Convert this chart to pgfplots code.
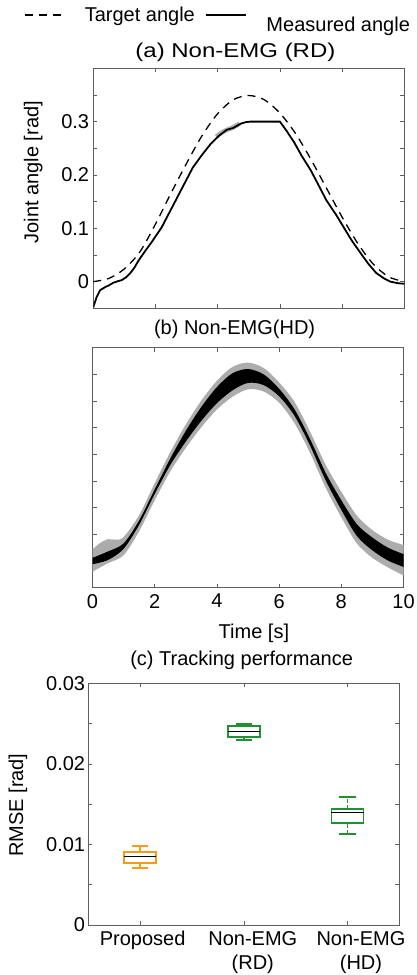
\documentclass[border=0pt]{standalone}
\usepackage{fontspec}
\setmainfont{Liberation Sans}
\usepackage{graphicx}
\usepackage{pgfplots}
\pgfplotsset{compat=1.18}
\usepgfplotslibrary{fillbetween}

\definecolor{axgray}{RGB}{95,95,95}
\definecolor{bandgray}{RGB}{172,172,172}
\definecolor{boxorange}{RGB}{246,155,25}
\definecolor{boxgreen}{RGB}{32,145,50}

\newcommand{\fsz}{\fontsize{20}{24}\selectfont}

\pgfplotsset{
  mlab/.style={
    scale only axis, width=311pt, height=240pt,
    axis line style={axgray, line width=0.8pt},
    tick align=inside, xtick pos=both, ytick pos=both,
    major tick length=4pt, minor tick length=4pt,
    every tick/.style={axgray, line width=0.6pt},
    tick label style={font=\fsz},
    label style={font=\fsz},
    every axis title shift=0pt,
    title style={font=\fsz, anchor=base},
    yticklabel style={inner xsep=4pt},
    /pgf/number format/assume math mode=true,
  },
}

\begin{document}
\begin{tikzpicture}

% (a) Non-EMG (RD)
\begin{axis}[mlab, at={(93.3pt,-68.3pt)}, anchor=north west,
  xmin=0, xmax=10, ymin=-0.05, ymax=0.4,
  xtick={2,4,6,8}, xticklabels={},
  ytick={0,0.1,0.2,0.3}, minor ytick={0.05,0.15,0.25,0.35},
  yticklabel style={/pgf/number format/fixed},
  title={\scalebox{1.2}[1]{(a) Non-EMG (RD)}},
  title style={at={(axis description cs:0.457,1.046)}},
  ylabel={Joint angle [rad]},
  ylabel style={at={(axis description cs:-0.193,0.567)}, anchor=center},
  legend columns=2,
  legend style={at={(axis description cs:-0.226,1.222)}, anchor=west,
    draw=none, fill=none, inner sep=0pt, nodes={inner sep=0pt}, font=\fsz,
    /tikz/every odd column/.append style={column sep=19pt},
    /tikz/every even column/.append style={column sep=10pt}},
  legend image code/.code={\draw[#1, line width=2.6pt] (0pt,0pt) -- (40pt,0pt);},
]
\addplot[bandgray, line width=4.5pt, forget plot, smooth] coordinates {
  (3.95,0.272) (4.2,0.282) (4.45,0.288) (4.7,0.296)};
\addplot[black, dash pattern=on 8pt off 6pt, line width=1.3pt, smooth] coordinates {
  (0,0) (0.5,0.006) (1,0.024) (1.5,0.056) (2,0.108) (2.5,0.166) (3,0.222)
  (3.5,0.274) (4,0.315) (4.5,0.341) (5,0.349) (5.5,0.341) (6,0.316) (6.5,0.278)
  (7,0.229) (7.5,0.175) (8,0.121) (8.5,0.072) (9,0.033) (9.5,0.009) (10,0)};
\addlegendentry{Target angle}
\addplot[black, line width=1.8pt] coordinates {
  (0,-0.048) (0.1,-0.030) (0.22,-0.016) (0.39,-0.010) (0.5,-0.007) (0.65,-0.002)
  (0.8,0.001) (0.92,0.003) (1.05,0.008) (1.19,0.016) (1.32,0.026) (1.46,0.040)
  (1.65,0.056) (1.9,0.076) (2.2,0.102) (2.45,0.130) (2.7,0.158) (2.95,0.186)
  (3.2,0.214) (3.5,0.238) (3.77,0.258) (4.05,0.274) (4.3,0.285) (4.5,0.288)
  (4.73,0.296) (4.9,0.299) (5.05,0.300) (6.0,0.300) (6.2,0.284) (6.45,0.262)
  (6.7,0.236) (7.0,0.208) (7.25,0.180) (7.5,0.152) (7.8,0.126) (8.05,0.102)
  (8.3,0.078) (8.6,0.053) (8.85,0.033) (9.1,0.016) (9.35,0.006) (9.55,0.0)
  (9.8,-0.003) (10,-0.004)};
\addlegendentry{\raisebox{-10pt}[\height][\depth]{Measured angle}}
\end{axis}

% (b) Non-EMG(HD)
\begin{axis}[mlab, at={(92.5pt,-347.7pt)}, anchor=north west,
  xmin=0, xmax=10, ymin=-0.05, ymax=0.4,
  xtick={0,2,4,6,8,10},
  xticklabel style={yshift=-3pt},
  ytick={0,0.1,0.2,0.3}, minor ytick={0.05,0.15,0.25,0.35}, yticklabels={},
  title={(b) Non-EMG(HD)},
  title style={at={(axis description cs:0.457,1.053)}},
  xlabel={Time [s]},
  xlabel style={at={(axis description cs:0.519,-0.2125)}, anchor=base},
]
\addplot[name path=gu, draw=none, smooth] coordinates {
  (0,0.022) (0.25,0.034) (0.5,0.041) (0.75,0.040) (1,0.045) (1.5,0.086) (2,0.146)
  (2.5,0.204) (3,0.256) (3.5,0.301) (4,0.338) (4.5,0.364) (5,0.372) (5.5,0.362)
  (6,0.335) (6.5,0.298) (7,0.242) (7.5,0.180) (8,0.130) (8.5,0.085) (9,0.058)
  (9.5,0.040) (10,0.030)};
\addplot[name path=gl, draw=none, smooth] coordinates {
  (0,-0.020) (0.5,-0.004) (1,0.011) (1.5,0.056) (2,0.114) (2.5,0.168) (3,0.212)
  (3.5,0.251) (4,0.284) (4.5,0.308) (5,0.322) (5.5,0.318) (6,0.297) (6.5,0.258)
  (7,0.202) (7.5,0.137) (8,0.082) (8.5,0.033) (9,0.006) (9.5,-0.012) (10,-0.027)};
\addplot[bandgray] fill between[of=gu and gl];
\addplot[name path=bu, draw=none, smooth] coordinates {
  (0,0.006) (0.5,0.018) (1,0.033) (1.5,0.076) (2,0.134) (2.5,0.192) (3,0.244)
  (3.5,0.289) (4,0.326) (4.5,0.352) (5,0.360) (5.5,0.350) (6,0.323) (6.5,0.284)
  (7,0.228) (7.5,0.165) (8,0.114) (8.5,0.069) (9,0.044) (9.5,0.025) (10,0.013)};
\addplot[name path=bl, draw=none, smooth] coordinates {
  (0,-0.006) (0.5,0.002) (1,0.023) (1.5,0.068) (2,0.126) (2.5,0.180) (3,0.224)
  (3.5,0.263) (4,0.296) (4.5,0.320) (5,0.334) (5.5,0.330) (6,0.309) (6.5,0.272)
  (7,0.216) (7.5,0.151) (8,0.096) (8.5,0.047) (9,0.020) (9.5,0.001) (10,-0.011)};
\addplot[black] fill between[of=bu and bl];
\addplot[black, line width=1.2pt, smooth] coordinates {
  (0,0.000) (0.5,0.010) (1,0.028) (1.5,0.072) (2,0.130) (2.5,0.186) (3,0.234)
  (3.5,0.276) (4,0.311) (4.5,0.336) (5,0.347) (5.5,0.340) (6,0.316) (6.5,0.278)
  (7,0.222) (7.5,0.158) (8,0.105) (8.5,0.058) (9,0.032) (9.5,0.013) (10,0.001)};
\end{axis}

% (c) Tracking performance
\begin{axis}[mlab, at={(88.3pt,-683.3pt)}, anchor=north west, height=241.7pt,
  xmin=0.5, xmax=3.5, ymin=0, ymax=0.03,
  xtick={1,2,3},
  xticklabels={{\hspace*{5pt}\strut Proposed},
    {\hspace*{18pt}\begin{tabular}{@{}c@{}}Non-EMG\\(RD)\end{tabular}},
    {\hspace*{27pt}\begin{tabular}{@{}c@{}}Non-EMG\\(HD)\end{tabular}}},
  ytick={0,0.01,0.02,0.03}, minor ytick={0.005,0.015,0.025},
  scaled y ticks=false,
  yticklabel style={/pgf/number format/fixed, /pgf/number format/precision=2, inner xsep=3pt},
  title={(c) Tracking performance},
  title style={at={(axis description cs:0.493,1.074)}},
  ylabel={RMSE [rad]},
  ylabel style={at={(axis description cs:-0.226,0.496)}, anchor=center},
]
% Proposed
\addplot[boxorange, line width=1.8pt] coordinates {(1,0.00707) (1,0.00766)};
\addplot[boxorange, line width=1.8pt] coordinates {(1,0.00902) (1,0.00981)};
\addplot[boxorange, line width=1.8pt] coordinates {(0.92,0.00707) (1.08,0.00707)};
\addplot[boxorange, line width=1.8pt] coordinates {(0.92,0.00981) (1.08,0.00981)};
\addplot[boxorange, line width=1.8pt, fill=white] coordinates {
  (0.845,0.00766) (1.155,0.00766) (1.155,0.00902) (0.845,0.00902)} -- cycle;
\addplot[black, line width=1.2pt] coordinates {(0.845,0.00848) (1.155,0.00848)};
% Non-EMG (RD)
\addplot[boxgreen, line width=1.8pt] coordinates {(2,0.02296) (2,0.02337)};
\addplot[boxgreen, line width=1.8pt] coordinates {(2,0.02474) (2,0.02495)};
\addplot[boxgreen, line width=1.8pt] coordinates {(1.92,0.02296) (2.08,0.02296)};
\addplot[boxgreen, line width=1.8pt] coordinates {(1.92,0.02495) (2.08,0.02495)};
\addplot[boxgreen, line width=1.8pt, fill=white] coordinates {
  (1.845,0.02337) (2.155,0.02337) (2.155,0.02474) (1.845,0.02474)} -- cycle;
\addplot[black, line width=1.2pt] coordinates {(1.845,0.02404) (2.155,0.02404)};
% Non-EMG (HD)
\addplot[boxgreen, line width=1.8pt, dash pattern=on 4pt off 2.5pt] coordinates {(3,0.01126) (3,0.01262)};
\addplot[boxgreen, line width=1.8pt, dash pattern=on 4pt off 2.5pt] coordinates {(3,0.01436) (3,0.01592)};
\addplot[boxgreen, line width=1.8pt] coordinates {(2.915,0.01126) (3.085,0.01126)};
\addplot[boxgreen, line width=1.8pt] coordinates {(2.915,0.01592) (3.085,0.01592)};
\addplot[boxgreen, line width=1.8pt, fill=white] coordinates {
  (2.845,0.01262) (3.155,0.01262) (3.155,0.01436) (2.845,0.01436)} -- cycle;
\addplot[black, line width=1.2pt] coordinates {(2.845,0.01399) (3.155,0.01399)};
\end{axis}

\pgfresetboundingbox
\useasboundingbox (0pt,0pt) rectangle (416pt,-975pt);
\end{tikzpicture}
\end{document}
